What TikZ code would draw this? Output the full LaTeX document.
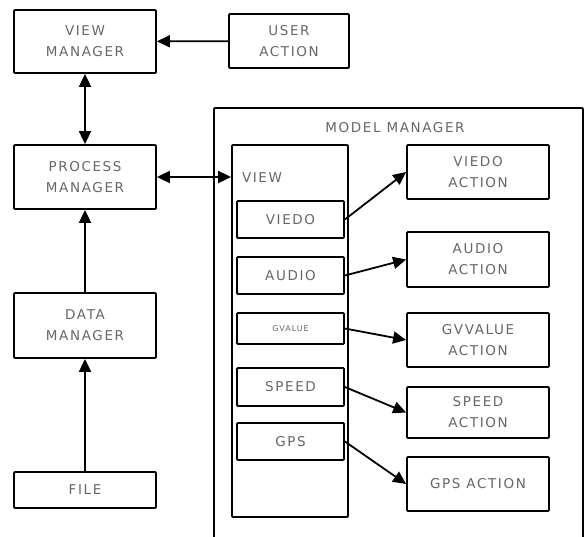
\documentclass[tikz,border=0pt]{standalone}
\usepackage{fontspec}
\usetikzlibrary{arrows.meta, positioning}
\newfontfamily\boxfont[LetterSpace=12]{DejaVu Sans}

\begin{document}
\begin{tikzpicture}[
  x=1pt, y=-1pt,
  box/.style={draw, rectangle, rounded corners=1pt, line width=1.8pt, inner sep=0pt, align=center, text=black!60, font=\boxfont\fontsize{13.5}{21}\selectfont},
  arrow/.style={-{Triangle[length=13pt, width=12pt]}, line width=1.8pt}
]
\useasboundingbox (0,0) rectangle (586,536);
\clip (0,0) rectangle (586,536);

% Left column
\node[box, minimum width=142pt, minimum height=63pt] (ViewMgr) at (85,41.5) {VIEW\\MANAGER};
\node[box, minimum width=120pt, minimum height=54pt] (UserAct) at (289,41) {USER\\ACTION};
\node[box, minimum width=142pt, minimum height=64pt] (ProcMgr) at (85,177) {PROCESS\\MANAGER};
\node[box, minimum width=142pt, minimum height=65pt] (DataMgr) at (85,325.5) {DATA\\MANAGER};
\node[box, minimum width=142pt, minimum height=36pt] (File) at (85,490) {FILE};

\draw[arrow] (UserAct) -- (ViewMgr);
\draw[arrow, {Triangle[length=13pt, width=12pt]}-{Triangle[length=13pt, width=12pt]}] (ViewMgr) -- (ProcMgr);
\draw[arrow] (DataMgr) -- (ProcMgr);
\draw[arrow] (File) -- (DataMgr);

% Model manager
\node[draw, line width=1.8pt, rounded corners=1pt, minimum width=369pt, minimum height=450pt, anchor=north west] (ModelMgr) at (213,107) {};
\node[text=black!60, font=\boxfont\fontsize{13.5}{21}\selectfont] (ModelTitle) at (395,128) {MODEL MANAGER};

\node[box, minimum width=116pt, minimum height=372pt] (View) at (290,331) {};
\node[text=black!60, font=\boxfont\fontsize{13.5}{21}\selectfont] (ViewTitle) at (262,178) {VIEW};

\draw[arrow, {Triangle[length=13pt, width=12pt]}-{Triangle[length=13pt, width=12pt]}] (ProcMgr.east) -- (ProcMgr.east -| View.west);

% View items
\node[box, minimum width=107pt, minimum height=37pt] (Viedo) at (290.5,219.5) {VIEDO};
\node[box, minimum width=107pt, minimum height=37pt] (Audio) at (290.5,275.5) {AUDIO};
\node[box, minimum width=107pt, minimum height=31pt, font=\boxfont\fontsize{8}{9}\selectfont] (GValue) at (290.5,328.5) {GVALUE};
\node[box, minimum width=107pt, minimum height=38pt] (Speed) at (290.5,387) {SPEED};
\node[box, minimum width=107pt, minimum height=37pt] (Gps) at (290.5,441.5) {GPS};

% Actions
\node[box, minimum width=142pt, minimum height=54pt] (ViedoAct) at (478,172) {VIEDO\\ACTION};
\node[box, minimum width=142pt, minimum height=55pt] (AudioAct) at (478,259.5) {AUDIO\\ACTION};
\node[box, minimum width=142pt, minimum height=54pt] (GValueAct) at (478,340) {GVVALUE\\ACTION};
\node[box, minimum width=142pt, minimum height=51pt] (SpeedAct) at (478,412.5) {SPEED\\ACTION};
\node[box, minimum width=142pt, minimum height=54pt] (GpsAct) at (478,484) {GPS ACTION};

\draw[arrow] (Viedo.east) -- (ViedoAct.west);
\draw[arrow] (Audio.east) -- (AudioAct.west);
\draw[arrow] (GValue.east) -- (GValueAct.west);
\draw[arrow] (Speed.east) -- (SpeedAct.west);
\draw[arrow] (Gps.east) -- (GpsAct.west);

\end{tikzpicture}
\end{document}
